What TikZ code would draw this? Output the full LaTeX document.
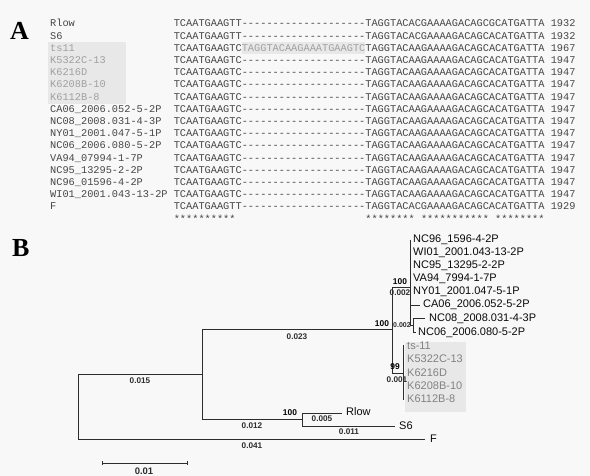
\documentclass[tikz,border=0pt]{standalone}
\usepackage{fontspec}
\setmainfont{Liberation Sans}
\newfontfamily\monof{Liberation Mono}
\newfontfamily\serifb{Liberation Serif}
\definecolor{bg}{RGB}{248,248,248}
\definecolor{txt}{RGB}{70,70,70}
\definecolor{hl}{RGB}{160,160,160}
\definecolor{hlbg}{RGB}{232,232,232}
\definecolor{treec}{RGB}{45,45,45}
\definecolor{leafc}{RGB}{10,10,10}
\definecolor{leafg}{RGB}{130,130,130}
\newcommand\gapdash{-{}-{}-{}-{}-{}-{}-{}-{}-{}-{}-{}-{}-{}-{}-{}-{}-{}-{}-{}-{}}
\tikzset{
  mono/.style={anchor=base west,inner sep=0pt,font=\monof\fontsize{10.3}{12}\selectfont,text=txt},
  panel/.style={anchor=base west,inner sep=0pt,font=\serifb\bfseries\fontsize{26}{26}\selectfont,text=black},
  br/.style={draw=treec,line width=0.9pt},
  leaf/.style={anchor=west,inner sep=0pt,font=\fontsize{11}{12}\selectfont,text=leafc},
  leafgr/.style={leaf,text=leafg},
  blen/.style={inner sep=0pt,font=\bfseries\fontsize{8.2}{9}\selectfont,text=treec},
  boot/.style={inner sep=0pt,font=\bfseries\fontsize{8.4}{9}\selectfont,text=black},
}
\newcommand\arow[6]{%
  \node[mono,text=#3] (lab#1) at (50,{27+12.2*#1}) {#2};
  \node[mono] (seq#1) at (173.6,{27+12.2*#1}) {#4\gapdash#5};
  \node[mono] (num#1) at (550.6,{27+12.2*#1}) {#6};}
\begin{document}
\begin{tikzpicture}[x=1pt,y=-1pt]
\fill[bg] (0,0) rectangle (590,476);
\useasboundingbox (0,0) rectangle (590,476);
% ---------- panel A ----------
\node[panel] (pA) at (10,40) {A};
\fill[hlbg] (48,42) rectangle (126,104);
\fill[hlbg] (241.6,42.5) rectangle (365.2,54.5);
\arow{0}{Rlow}{txt}{TCAATGAAGTT}{TAGGTACACGAAAAGACAGCGCATGATTA}{1932}
\arow{1}{S6}{txt}{TCAATGAAGTT}{TAGGTACACGAAAAGACAGCACATGATTA}{1932}
\node[mono,text=hl] (lab2) at (50,51.4) {ts11};
\node[mono] (seq2) at (173.6,51.4) {TCAATGAAGTC\textcolor{hl}{TAGGTACAAGAAATGAAGTC}TAGGTACAAGAAAAGACAGCACATGATTA};
\node[mono] (num2) at (550.6,51.4) {1967};
\arow{3}{K5322C-13}{hl}{TCAATGAAGTC}{TAGGTACAAGAAAAGACAGCACATGATTA}{1947}
\arow{4}{K6216D}{hl}{TCAATGAAGTC}{TAGGTACAAGAAAAGACAGCACATGATTA}{1947}
\arow{5}{K6208B-10}{hl}{TCAATGAAGTC}{TAGGTACAAGAAAAGACAGCACATGATTA}{1947}
\arow{6}{K6112B-8}{hl}{TCAATGAAGTC}{TAGGTACAAGAAAAGACAGCACATGATTA}{1947}
\arow{7}{CA06\_2006.052-5-2P}{txt}{TCAATGAAGTC}{TAGGTACAAGAAAAGACAGCACATGATTA}{1947}
\arow{8}{NC08\_2008.031-4-3P}{txt}{TCAATGAAGTC}{TAGGTACAAGAAAAGACAGCACATGATTA}{1947}
\arow{9}{NY01\_2001.047-5-1P}{txt}{TCAATGAAGTC}{TAGGTACAAGAAAAGACAGCACATGATTA}{1947}
\arow{10}{NC06\_2006.080-5-2P}{txt}{TCAATGAAGTC}{TAGGTACAAGAAAAGACAGCACATGATTA}{1947}
\arow{11}{VA94\_07994-1-7P}{txt}{TCAATGAAGTC}{TAGGTACAAGAAAAGACAGCACATGATTA}{1947}
\arow{12}{NC95\_13295-2-2P}{txt}{TCAATGAAGTC}{TAGGTACAAGAAAAGACAGCACATGATTA}{1947}
\arow{13}{NC96\_01596-4-2P}{txt}{TCAATGAAGTC}{TAGGTACAAGAAAAGACAGCACATGATTA}{1947}
\arow{14}{WI01\_2001.043-13-2P}{txt}{TCAATGAAGTC}{TAGGTACAAGAAAAGACAGCACATGATTA}{1947}
\arow{15}{F}{txt}{TCAATGAAGTT}{TAGGTACACGAAAAGACAGCACATGATTA}{1929}
\node[mono] (st1) at (173.6,222.2) {**********};
\node[mono] (st2) at (365.2,222.2) {********};
\node[mono] (st3) at (420.8,222.2) {***********};
\node[mono] (st4) at (494.96,222.2) {********};
% ---------- panel B ----------
\node[panel] (pB) at (12,257) {B};
\fill[hlbg] (405,342) rectangle (466,412);
% junction coordinates
\coordinate (rt) at (78,374); \coordinate (rb) at (78,439);
\coordinate (a) at (202,374); \coordinate (at) at (202,329); \coordinate (ab) at (202,419);
\coordinate (b) at (392,329); \coordinate (bt) at (392,287); \coordinate (bb) at (392,373);
\coordinate (c) at (302,419); \coordinate (ct) at (302,413); \coordinate (cb) at (302,426);
\coordinate (cR) at (342,413); \coordinate (cS) at (395,426); \coordinate (fF) at (425,439);
\coordinate (d) at (410,287); \coordinate (dt) at (410,240); \coordinate (db) at (410,325);
\coordinate (dca) at (410,305); \coordinate (eca) at (420,305);
\coordinate (e) at (413,325); \coordinate (et) at (413,318); \coordinate (eb) at (413,332);
\coordinate (e8) at (425,318); \coordinate (e6) at (416,332);
\coordinate (g) at (403,373); \coordinate (gt) at (403,345); \coordinate (gb) at (403,400);
% branches
\draw[br] (a) -- (rt) -- (rb) -- (fF);
\draw[br] (b) -- (at) -- (ab) -- (c);
\draw[br] (cR) -- (ct) -- (cb) -- (cS);
\draw[br] (d) -- (bt) -- (bb) -- (g);
\draw[br] (gt) -- (gb);
\draw[br] (dt) -- (db) -- (e);
\draw[br] (dca) -- (eca);
\draw[br] (e8) -- (et) -- (eb) -- (e6);
% leaves
\node[leaf] (lNC96) at (413,240) {NC96\_1596-4-2P};
\node[leaf] (lWI01) at (413,253) {WI01\_2001.043-13-2P};
\node[leaf] (lNC95) at (413,266) {NC95\_13295-2-2P};
\node[leaf] (lVA94) at (413,279) {VA94\_7994-1-7P};
\node[leaf] (lNY01) at (413,292) {NY01\_2001.047-5-1P};
\node[leaf] (lCA06) at (423,305) {CA06\_2006.052-5-2P};
\node[leaf] (lNC08) at (429,319) {NC08\_2008.031-4-3P};
\node[leaf] (lNC06) at (418,333) {NC06\_2006.080-5-2P};
\node[leafgr] (lts) at (407,346) {ts-11};
\node[leafgr] (lK53) at (407,359) {K5322C-13};
\node[leafgr] (lK62) at (407,373) {K6216D};
\node[leafgr] (lK620) at (407,386) {K6208B-10};
\node[leafgr] (lK61) at (407,399) {K6112B-8};
\node[leaf] (lR) at (346,412) {Rlow};
\node[leaf] (lS6) at (399,426) {S6};
\node[leaf] (lF) at (430,439) {F};
% branch lengths and support
\node[blen] (b015) at (140,381) {0.015};
\node[blen] (b041) at (252,446) {0.041};
\node[blen] (b023) at (297,337) {0.023};
\node[blen] (b012) at (252,426) {0.012};
\node[blen] (b005) at (322,419) {0.005};
\node[blen] (b011) at (349,432) {0.011};
\node[blen] (b002a) at (400,293) {0.002};
\node[blen,font=\bfseries\fontsize{7}{8}\selectfont] (b002b) at (402,325.5) {0.002};
\node[blen] (b001) at (397,380) {0.001};
\node[boot] (s100a) at (382,324) {100};
\node[boot] (s100b) at (290,413) {100};
\node[boot] (s100c) at (400,282) {100};
\node[boot] (s99) at (395,367) {99};
% scale bar
\coordinate (sL) at (102,463); \coordinate (sR) at (187,463);
\draw[br,line width=0.8pt] (sL) -- (sR);
\draw[br,line width=0.8pt] ([yshift=-2pt]sL) -- ([yshift=2pt]sL);
\draw[br,line width=0.8pt] ([yshift=-2pt]sR) -- ([yshift=2pt]sR);
\node[blen,font=\bfseries\fontsize{9.5}{10}\selectfont] (s001) at (144,471) {0.01};
\end{tikzpicture}
\end{document}
